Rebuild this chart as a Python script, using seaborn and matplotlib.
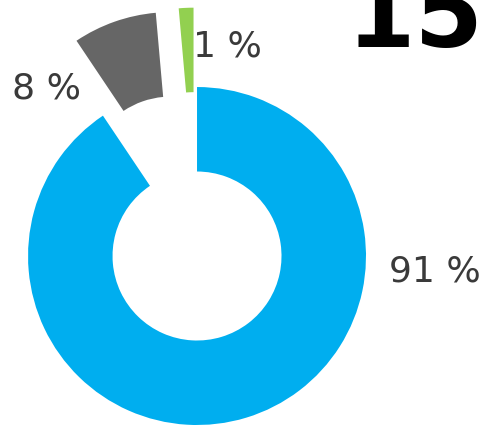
import matplotlib
matplotlib.use("Agg")
import matplotlib.pyplot as plt
import seaborn as sns

categories = ["A", "B", "C"]
values = [90.6, 8.0, 1.4]
labels = ["91 %", "8 %", "1 %"]
headline = "15m"

sns.set_theme(style="white")
plt.rcParams["font.family"] = ["DejaVu Sans"]

colors = ["#00AEEF", "#666666", "#92D050"]

fig = plt.figure(figsize=(4.88, 4.25), dpi=100)
ax = fig.add_axes([0, 0, 1, 1])
ax.pie(values, startangle=90, counterclock=False, colors=colors,
       explode=[0, 0.47, 0.47], radius=1.0,
       wedgeprops=dict(width=0.5, linewidth=0))
ax.set_xlim(-1.166, 1.722)
ax.set_ylim(-1.0, 1.515)
ax.set_aspect("auto")
ax.axis("off")

label_pos = [(1.405, -0.092), (-0.888, 0.991), (0.178, 1.237)]
for (x, y), t in zip(label_pos, labels):
    ax.text(x, y, t, ha="center", va="center", fontsize=26, color="#3a3a3a")

fig.text(0.711, 0.889, headline, ha="left", va="baseline", fontsize=71,
         fontweight="bold", color="black")

fig.savefig("out.png", dpi=100)
